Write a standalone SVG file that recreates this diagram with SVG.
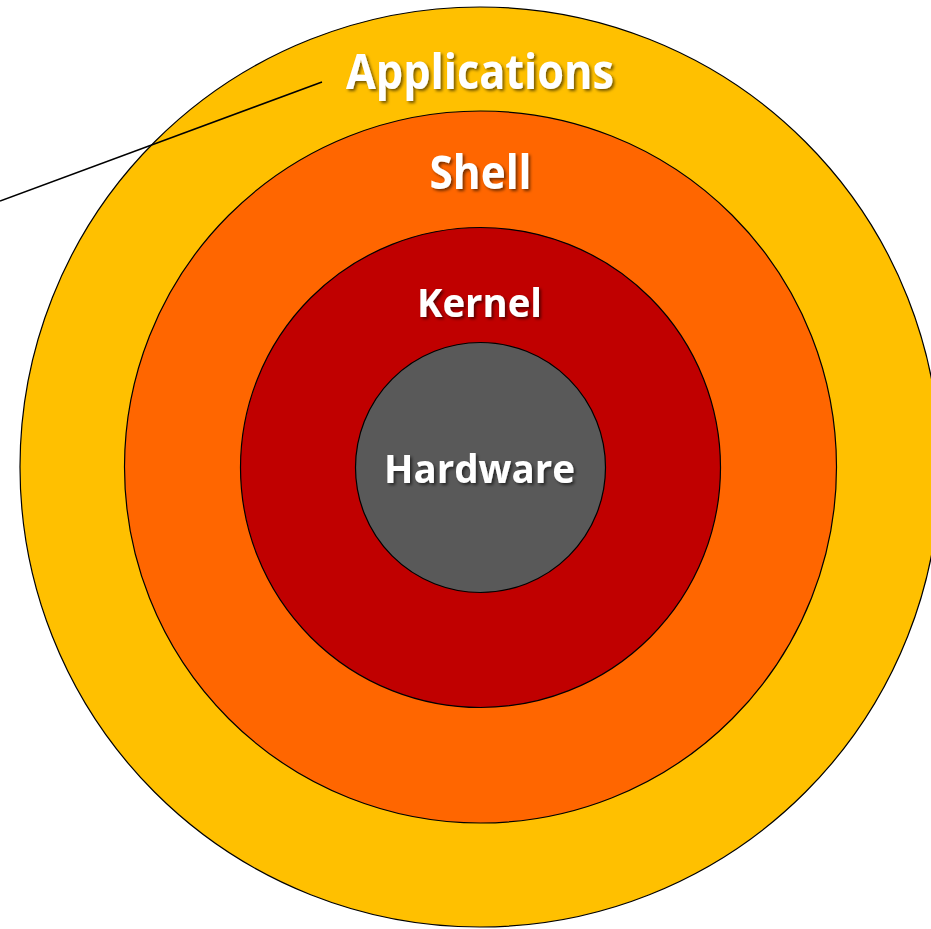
<svg xmlns="http://www.w3.org/2000/svg" width="931" height="929" viewBox="0 0 931 929">
  <defs>
    <filter id="shadow" x="-10%" y="-30%" width="120%" height="160%">
      <feDropShadow dx="2" dy="2" stdDeviation="1.5" flood-color="#000" flood-opacity="0.55"/>
    </filter>
  </defs>
  <style>
    .ring { stroke: #000; stroke-width: 1.2; }
    .lbl { font-family: "Open Sans", "Liberation Sans", sans-serif; font-weight: bold; fill: #fff; text-anchor: middle; filter: url(#shadow); }
    .conn { stroke: #000; stroke-width: 1.6; fill: none; }
  </style>
  <rect width="931" height="929" fill="#fff"/>
  <g id="applications">
    <circle class="ring" cx="480" cy="467" r="460" fill="#FFC000"/>
    <text class="lbl" x="480" y="88.5" font-size="48" textLength="268" lengthAdjust="spacingAndGlyphs">Applications</text>
  </g>
  <g id="shell">
    <circle class="ring" cx="480.5" cy="467" r="356" fill="#FF6600"/>
    <text class="lbl" x="480.5" y="188.5" font-size="47" textLength="102" lengthAdjust="spacingAndGlyphs">Shell</text>
  </g>
  <g id="kernel">
    <circle class="ring" cx="480.5" cy="467.5" r="240" fill="#C00000"/>
    <text class="lbl" x="479.5" y="316.5" font-size="40" textLength="125" lengthAdjust="spacingAndGlyphs">Kernel</text>
  </g>
  <g id="hardware">
    <circle class="ring" cx="480.5" cy="467.5" r="125" fill="#595959"/>
    <text class="lbl" x="479.5" y="482.5" font-size="40" textLength="191" lengthAdjust="spacingAndGlyphs">Hardware</text>
  </g>
  <g id="connectors">
    <line class="conn" x1="0" y1="201" x2="322" y2="82"/>
  </g>
</svg>
